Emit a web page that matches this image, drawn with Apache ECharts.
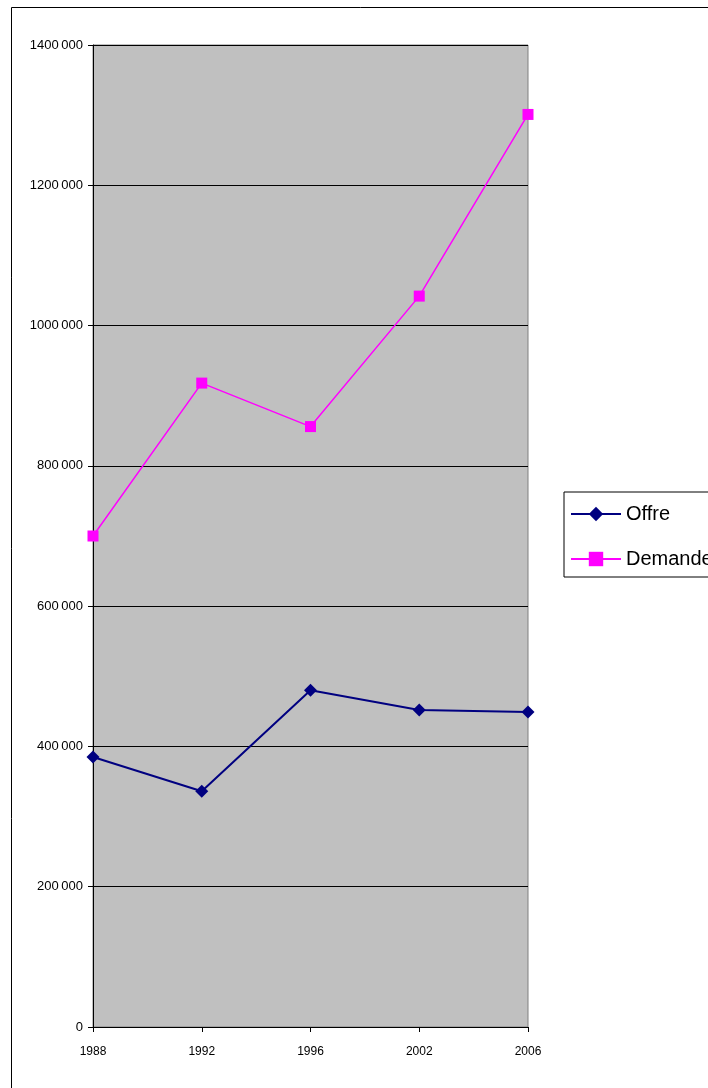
<!DOCTYPE html>
<html>
<head>
<meta charset="utf-8">
<script src="https://cdn.jsdelivr.net/npm/echarts@6/dist/echarts.min.js"></script>
<style>
  html, body { margin: 0; padding: 0; background: #fff; }
  #chart { width: 708px; height: 1088px; }
</style>
</head>
<body>
<div id="chart"></div>
<script>
// données
const years = ['1988', '1992', '1996', '2002', '2006'];
const offre = [385000, 336000, 480000, 452000, 449000];
const demande = [700000, 918000, 856000, 1042000, 1301000];
const yTicks = { min: 0, max: 1400000, interval: 200000 };

const font = '"Liberation Sans", Arial, sans-serif';

// "1400 000" : seul le dernier groupe est séparé
const fmt = v => {
  const s = String(v);
  return s.length > 3 ? s.slice(0, -3) + '\u2009' + s.slice(-3) : s;
};

const chart = echarts.init(document.getElementById('chart'));

chart.setOption({
  animation: false,
  backgroundColor: '#fff',
  textStyle: { fontFamily: font },
  graphic: [{
    type: 'rect',
    shape: { x: 11.5, y: 7.5, width: 760, height: 1120 },
    style: { fill: 'none', stroke: '#000', lineWidth: 1 },
    silent: true
  }],
  grid: {
    left: 93, right: 180, top: 45, bottom: 61,
    show: true,
    backgroundColor: '#c0c0c0',
    borderColor: '#808080',
    borderWidth: 1
  },
  legend: {
    orient: 'vertical',
    left: 564,
    top: 492,
    padding: [12, 4, 8, 6],
    itemGap: 25,
    itemWidth: 50,
    itemHeight: 18,
    backgroundColor: '#fff',
    borderColor: '#000',
    borderWidth: 1,
    textStyle: { fontSize: 20, color: '#000', fontFamily: font },
    data: ['Offre', 'Demande']
  },
  xAxis: {
    type: 'category',
    data: years,
    boundaryGap: false,
    axisLine: { lineStyle: { color: '#000', width: 1 } },
    axisTick: { show: true, length: 5, lineStyle: { color: '#000' } },
    axisLabel: { color: '#000', fontSize: 12, margin: 19, fontFamily: font },
    splitLine: { show: false }
  },
  yAxis: {
    type: 'value',
    min: yTicks.min,
    max: yTicks.max,
    interval: yTicks.interval,
    axisLine: { show: true, lineStyle: { color: '#000', width: 1 } },
    axisTick: { show: true, length: 5, lineStyle: { color: '#000' } },
    axisLabel: { color: '#000', fontSize: 13, margin: 10, fontFamily: font, formatter: fmt },
    splitLine: { show: true, lineStyle: { color: '#000', width: 1 } }
  },
  series: [
    {
      name: 'Offre',
      type: 'line',
      data: offre,
      symbol: 'diamond',
      symbolSize: 13,
      lineStyle: { color: '#000080', width: 2 },
      itemStyle: { color: '#000080' }
    },
    {
      name: 'Demande',
      type: 'line',
      data: demande,
      symbol: 'rect',
      symbolSize: 11,
      lineStyle: { color: '#ff00ff', width: 1.5 },
      itemStyle: { color: '#ff00ff' }
    }
  ]
});
</script>
</body>
</html>
